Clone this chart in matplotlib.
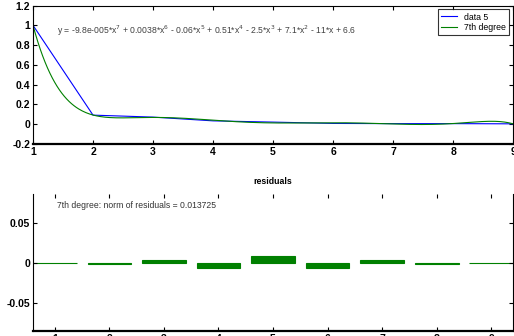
import numpy as np
import matplotlib
matplotlib.use("Agg")
import matplotlib.pyplot as plt

# Measured data ("data 5")
x_data = [1, 2, 3, 4, 5, 6, 7, 8, 9]
y_data = [1.0, 0.092, 0.072, 0.034, 0.0215, 0.008, 0.006, 0.006, 0.004]

fit_degree = 7
equation_label = (r"y = -9.8e-005*x$^{7}$ + 0.0038*x$^{6}$ - 0.06*x$^{5}$ + 0.51*x$^{4}$"
                  r" - 2.5*x$^{3}$ + 7.1*x$^{2}$ - 11*x + 6.6")
norm_label = "7th degree: norm of residuals = 0.013725"

top_xticks = [1, 2, 3, 4, 5, 6, 7, 8, 9]
top_yticks = [-0.2, 0, 0.2, 0.4, 0.6, 0.8, 1, 1.2]
top_yticklabels = ["-0.2", "0", "0.2", "0.4", "0.6", "0.8", "1", "1.2"]
res_yticks = [-0.05, 0, 0.05]
res_yticklabels = ["-0.05", "0", "0.05"]

BLUE = (0, 0, 1)
GREEN = (0, 0.5, 0)

plt.rcParams["font.family"] = ["Liberation Sans", "DejaVu Sans"]

# 7th-degree polynomial fit and its residuals
xd = np.array(x_data, dtype=float)
yd = np.array(y_data, dtype=float)
coef = np.polyfit(xd, yd, fit_degree)
xs = np.linspace(1, 9, 400)
ys = np.polyval(coef, xs)
residuals = yd - np.polyval(coef, xd)

fig = plt.figure(figsize=(5.14, 3.36), dpi=100)
ax1 = fig.add_axes([0.0642, 0.5714, 0.9340, 0.4122])
ax2 = fig.add_axes([0.0642, 0.0134, 0.9340, 0.4092])

tick_font = dict(fontsize=7.5, fontweight="bold")

# Upper panel: data and fitted curve
ax1.plot(xd, yd, color=BLUE, lw=0.8, label="data 5")
ax1.plot(xs, ys, color=GREEN, lw=0.8, label="7th degree")
ax1.set_xlim(1, 9)
ax1.set_ylim(-0.2, 1.2)
ax1.set_xticks(top_xticks)
ax1.set_xticklabels([str(t) for t in top_xticks], **tick_font)
ax1.set_yticks(top_yticks)
ax1.set_yticklabels(top_yticklabels, **tick_font)
ax1.tick_params(direction="in", length=3, width=0.8, top=True, right=True, pad=2)
for s in ax1.spines.values():
    s.set_linewidth(0.8)
ax1.spines["bottom"].set_linewidth(1.6)
ax1.text(1.4, 0.94, equation_label, fontsize=6.2, color="0.25", va="center")
leg = ax1.legend(loc="upper right", fontsize=6.3, frameon=True, fancybox=False,
                 edgecolor="black", borderpad=0.35, handlelength=1.9,
                 labelspacing=0.15, borderaxespad=0.45)
leg.get_frame().set_linewidth(0.8)

# Lower panel: residuals as bars
ax2.bar(xd, residuals, width=0.8, color=GREEN, edgecolor=GREEN, linewidth=0.8)
ax2.set_xlim(0.6, 9.4)
ax2.set_ylim(-0.086, 0.086)
ax2.set_xticks(top_xticks)
ax2.set_xticklabels([str(t) for t in top_xticks], **tick_font)
ax2.set_yticks(res_yticks)
ax2.set_yticklabels(res_yticklabels, **tick_font)
ax2.tick_params(direction="in", length=3, width=0.8, top=True, right=True, pad=2)
for s in ax2.spines.values():
    s.set_linewidth(0.8)
ax2.spines["top"].set_visible(False)
ax2.spines["bottom"].set_linewidth(1.6)
ax2.set_title("residuals", fontsize=6.3, fontweight="bold", pad=7)
ax2.text(0.05, 0.92, norm_label, transform=ax2.transAxes, fontsize=6.2,
         color="0.2", va="center")

fig.savefig("out.png", dpi=100)
